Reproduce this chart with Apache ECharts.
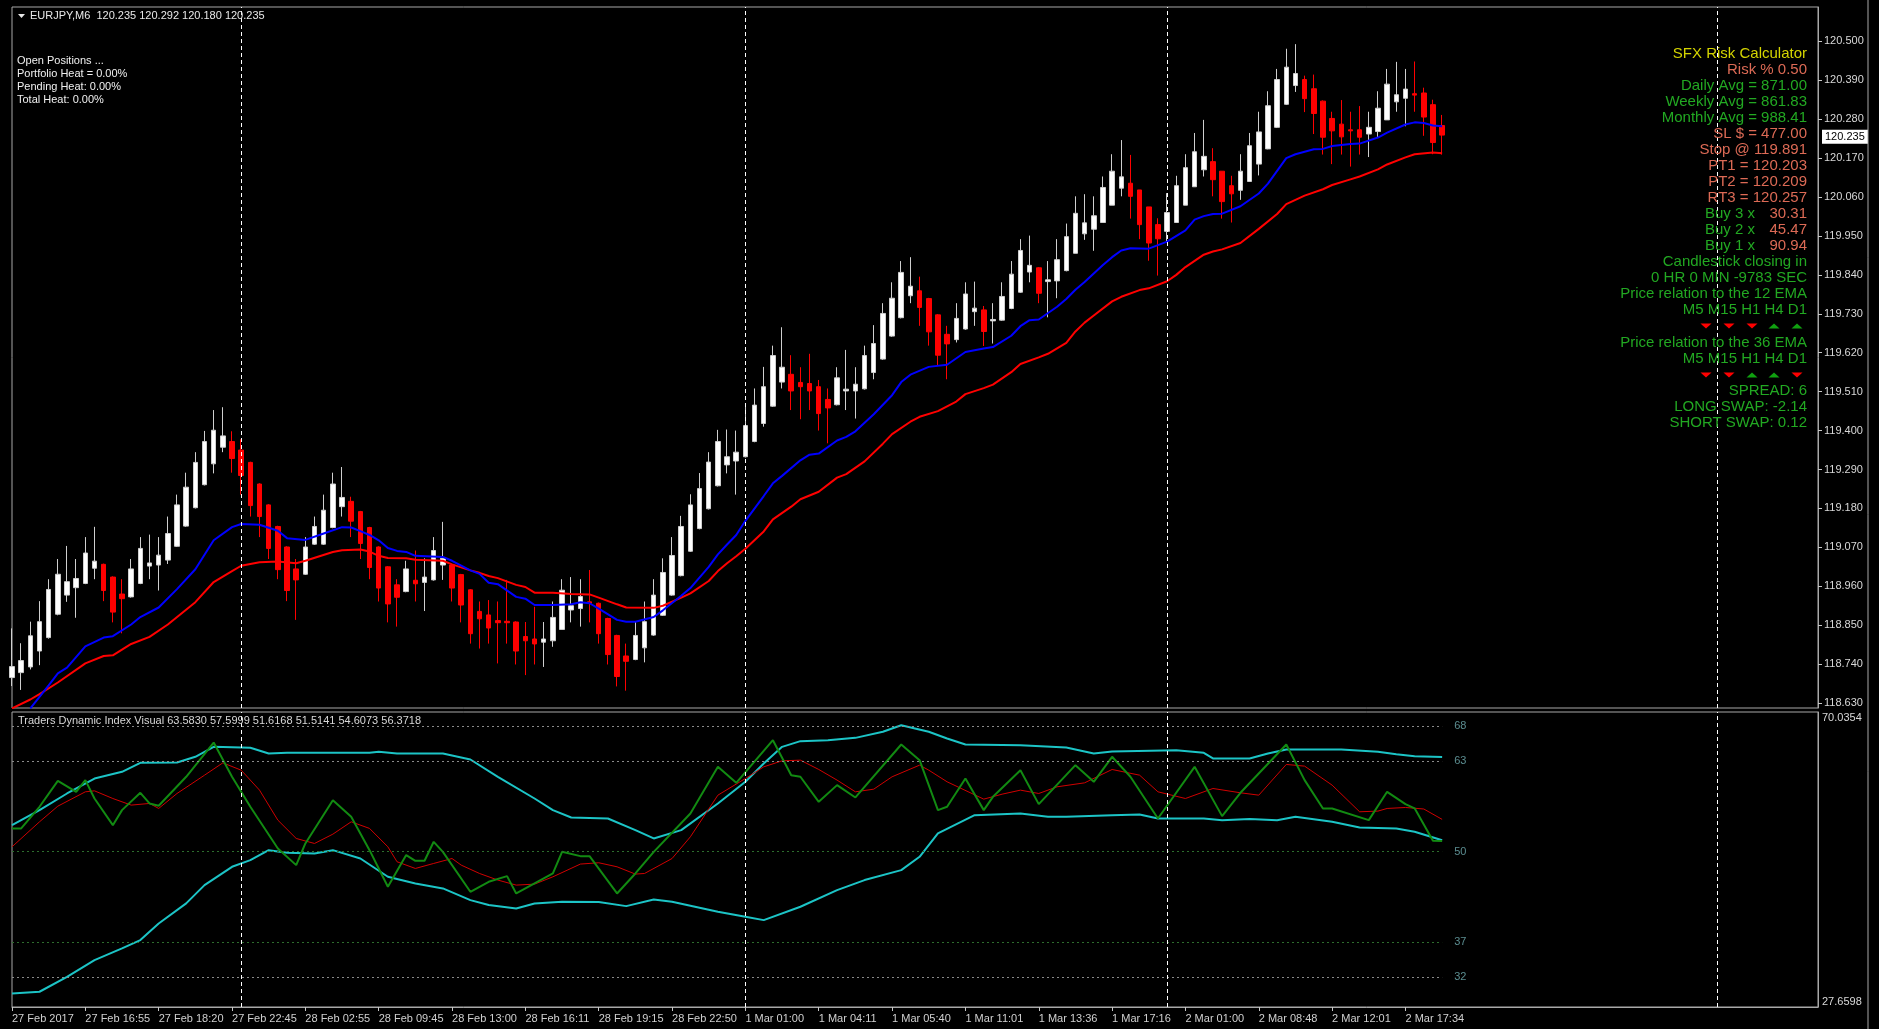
<!DOCTYPE html>
<html>
<head>
<meta charset="utf-8">
<title>EURJPY,M6</title>
<script src="https://cdn.jsdelivr.net/npm/echarts@6.0.0/dist/echarts.min.js"></script>
<style>
  html, body { margin: 0; padding: 0; background: #000; }
  #chart { width: 1879px; height: 1029px; }
</style>
</head>
<body>
<div id="chart"></div>
<script>
// ---- price data (EURJPY M6) ----
const opens = [
  118.702, 118.716, 118.732, 118.777, 118.815, 118.881, 118.935, 118.956, 118.968, 119.011,
  119.022, 118.986, 118.938, 118.930, 118.968, 119.017, 119.020, 119.034, 119.073, 119.130,
  119.182, 119.247, 119.306, 119.353, 119.369, 119.345, 119.310, 119.249, 119.190, 119.129,
  119.071, 119.009, 118.994, 119.079, 119.079, 119.126, 119.185, 119.200, 119.171, 119.126,
  119.071, 119.015, 118.964, 118.945, 118.977, 118.971, 118.978, 119.020, 119.020, 118.993,
  118.950, 118.889, 118.879, 118.863, 118.861, 118.859, 118.818, 118.811, 118.802, 118.806,
  118.838, 118.893, 118.897, 118.916, 118.912, 118.869, 118.821, 118.763, 118.753, 118.786,
  118.822, 118.878, 118.935, 118.990, 119.059, 119.123, 119.179, 119.244, 119.303, 119.314,
  119.326, 119.369, 119.420, 119.469, 119.537, 119.559, 119.536, 119.533, 119.524, 119.488,
  119.473, 119.512, 119.512, 119.518, 119.564, 119.602, 119.667, 119.719, 119.781, 119.795,
  119.773, 119.727, 119.672, 119.657, 119.687, 119.736, 119.741, 119.710, 119.712, 119.745,
  119.791, 119.848, 119.860, 119.821, 119.823, 119.852, 119.901, 119.956, 119.969, 119.988,
  120.037, 120.085, 120.099, 120.080, 120.032, 119.982, 119.963, 119.988, 120.037, 120.089,
  120.137, 120.160, 120.133, 120.092, 120.079, 120.104, 120.153, 120.196, 120.257, 120.322,
  120.375, 120.392, 120.366, 120.331, 120.282, 120.266, 120.250, 120.250, 120.238, 120.245,
  120.278, 120.329, 120.339, 120.352, 120.354, 120.321, 120.262
];
const highs = [
  118.841, 118.799, 118.860, 118.918, 118.980, 119.037, 119.074, 119.037, 119.099, 119.128,
  119.024, 118.988, 118.980, 119.037, 119.099, 119.106, 119.099, 119.157, 119.219, 119.281,
  119.339, 119.399, 119.458, 119.466, 119.398, 119.375, 119.312, 119.251, 119.192, 119.131,
  119.073, 119.037, 119.099, 119.157, 119.219, 119.281, 119.297, 119.213, 119.173, 119.128,
  119.073, 119.017, 118.980, 119.032, 119.061, 119.039, 119.099, 119.142, 119.022, 118.995,
  118.952, 118.917, 118.921, 118.917, 118.978, 118.861, 118.859, 118.902, 118.859, 118.917,
  118.980, 118.986, 118.980, 119.006, 118.914, 118.871, 118.823, 118.798, 118.859, 118.917,
  118.980, 119.039, 119.099, 119.159, 119.220, 119.280, 119.339, 119.402, 119.403, 119.400,
  119.467, 119.519, 119.580, 119.640, 119.692, 119.613, 119.579, 119.617, 119.543, 119.519,
  119.579, 119.628, 119.579, 119.640, 119.698, 119.760, 119.819, 119.879, 119.890, 119.835,
  119.775, 119.729, 119.696, 119.760, 119.819, 119.821, 119.752, 119.760, 119.819, 119.879,
  119.941, 119.951, 119.862, 119.879, 119.941, 119.985, 120.062, 120.068, 120.062, 120.118,
  120.181, 120.221, 120.179, 120.080, 120.032, 120.000, 120.071, 120.120, 120.181, 120.241,
  120.278, 120.198, 120.133, 120.120, 120.181, 120.241, 120.301, 120.359, 120.422, 120.479,
  120.492, 120.403, 120.406, 120.333, 120.301, 120.334, 120.301, 120.317, 120.301, 120.359,
  120.422, 120.442, 120.422, 120.443, 120.369, 120.335, 120.292
];
const lows = [
  118.678, 118.667, 118.725, 118.737, 118.812, 118.878, 118.916, 118.871, 118.966, 118.980,
  118.918, 118.858, 118.827, 118.928, 118.966, 118.980, 118.948, 119.023, 119.071, 119.128,
  119.180, 119.245, 119.279, 119.339, 119.281, 119.219, 119.157, 119.099, 119.037, 118.980,
  118.918, 118.865, 118.992, 119.077, 119.077, 119.124, 119.157, 119.099, 119.037, 118.980,
  118.917, 118.858, 118.846, 118.943, 118.917, 118.890, 118.976, 118.978, 118.917, 118.858,
  118.798, 118.784, 118.798, 118.742, 118.798, 118.739, 118.709, 118.739, 118.732, 118.789,
  118.838, 118.858, 118.846, 118.858, 118.798, 118.739, 118.677, 118.665, 118.751, 118.745,
  118.820, 118.876, 118.933, 118.988, 119.057, 119.121, 119.177, 119.242, 119.279, 119.219,
  119.324, 119.367, 119.411, 119.467, 119.519, 119.458, 119.432, 119.458, 119.400, 119.364,
  119.471, 119.458, 119.434, 119.516, 119.545, 119.600, 119.665, 119.717, 119.760, 119.696,
  119.640, 119.582, 119.545, 119.649, 119.685, 119.696, 119.639, 119.646, 119.710, 119.743,
  119.789, 119.819, 119.760, 119.720, 119.774, 119.850, 119.901, 119.939, 119.908, 119.988,
  120.037, 120.062, 119.999, 119.941, 119.880, 119.838, 119.935, 119.988, 120.037, 120.089,
  120.118, 120.062, 119.999, 119.988, 120.052, 120.104, 120.121, 120.195, 120.255, 120.320,
  120.357, 120.300, 120.238, 120.180, 120.153, 120.180, 120.146, 120.180, 120.173, 120.227,
  120.278, 120.301, 120.260, 120.301, 120.233, 120.181, 120.180
];
const closes = [
  118.733, 118.750, 118.820, 118.860, 118.951, 118.994, 118.973, 118.982, 119.054, 119.031,
  118.948, 118.887, 118.925, 119.009, 119.067, 119.026, 119.048, 119.109, 119.190, 119.240,
  119.310, 119.369, 119.401, 119.385, 119.321, 119.273, 119.188, 119.157, 119.067, 119.007,
  118.948, 118.978, 119.071, 119.129, 119.175, 119.249, 119.211, 119.144, 119.081, 119.013,
  118.955, 118.910, 118.929, 119.009, 118.967, 118.986, 119.061, 119.039, 118.955, 118.907,
  118.826, 118.868, 118.842, 118.857, 118.857, 118.777, 118.806, 118.797, 118.811, 118.872,
  118.949, 118.905, 118.931, 118.912, 118.826, 118.767, 118.705, 118.748, 118.821, 118.860,
  118.935, 118.999, 119.047, 119.129, 119.190, 119.236, 119.311, 119.369, 119.326, 119.339,
  119.414, 119.472, 119.524, 119.612, 119.579, 119.512, 119.524, 119.512, 119.448, 119.464,
  119.549, 119.517, 119.531, 119.612, 119.646, 119.731, 119.774, 119.847, 119.808, 119.748,
  119.679, 119.613, 119.645, 119.717, 119.786, 119.746, 119.680, 119.714, 119.779, 119.842,
  119.909, 119.867, 119.788, 119.826, 119.883, 119.948, 120.014, 119.987, 120.007, 120.087,
  120.133, 120.117, 120.062, 119.982, 119.930, 119.942, 120.016, 120.092, 120.143, 120.188,
  120.175, 120.109, 120.047, 120.069, 120.133, 120.205, 120.244, 120.318, 120.392, 120.427,
  120.409, 120.338, 120.296, 120.229, 120.247, 120.230, 120.247, 120.229, 120.257, 120.311,
  120.379, 120.349, 120.365, 120.348, 120.286, 120.214, 120.235
];

// moving averages, [bar index, value]
const ema12 = [
  [2,118.615],[4,118.680],[5,118.714],[6,118.730],[8,118.790],[10,118.815],[11,118.819],[13,118.852],
  [14,118.873],[16,118.900],[18,118.952],[20,119.008],[22,119.090],[24,119.127],[25,119.136],[27,119.134],
  [29,119.117],[30,119.096],[32,119.091],[34,119.109],[36,119.127],[37,119.126],[38,119.116],[39,119.105],
  [40,119.090],[41,119.068],[42,119.060],[43,119.057],[44,119.046],[47,119.043],[48,119.032],[50,119.005],
  [51,118.995],[52,118.970],[53,118.966],[55,118.930],[56,118.925],[57,118.907],[59,118.907],[61,118.909],
  [62,118.915],[63,118.912],[64,118.897],[66,118.865],[67,118.860],[68,118.860],[70,118.873],[71,118.892],
  [73,118.933],[74,118.955],[76,119.015],[77,119.050],[78,119.078],[79,119.105],[80,119.145],[82,119.215],
  [83,119.251],[84,119.272],[86,119.316],[87,119.332],[88,119.335],[90,119.372],[91,119.382],[92,119.398],
  [94,119.446],[96,119.500],[97,119.537],[98,119.558],[100,119.580],[102,119.586],[104,119.622],[106,119.632],
  [107,119.636],[109,119.668],[110,119.695],[111,119.712],[112,119.714],[114,119.750],[115,119.772],[116,119.798],
  [117,119.820],[119,119.868],[120,119.890],[121,119.909],[122,119.915],[124,119.914],[126,119.934],[128,119.966],
  [129,119.996],[130,120.006],[131,120.012],[132,120.013],[134,120.034],[136,120.070],[137,120.098],[139,120.170],
  [140,120.181],[142,120.195],[143,120.196],[144,120.204],[146,120.210],[147,120.211],[149,120.228],[150,120.242],
  [152,120.265],[153,120.271],[154,120.269],[155,120.262],[156,120.260]
];
const ema36 = [
  [0,118.615],[2,118.640],[3,118.655],[5,118.688],[8,118.742],[10,118.763],[11,118.765],[13,118.797],
  [15,118.817],[17,118.852],[20,118.915],[22,118.972],[24,119.003],[25,119.018],[27,119.028],[29,119.030],
  [31,119.025],[32,119.032],[35,119.057],[36,119.062],[38,119.064],[39,119.058],[40,119.046],[41,119.040],
  [43,119.039],[44,119.035],[47,119.032],[48,119.022],[50,119.005],[51,118.998],[52,118.989],[53,118.983],
  [55,118.964],[56,118.958],[57,118.942],[59,118.942],[61,118.938],[63,118.937],[64,118.928],[66,118.909],
  [67,118.900],[70,118.899],[71,118.905],[73,118.928],[74,118.940],[76,118.975],[77,119.003],[78,119.025],
  [79,119.045],[80,119.066],[82,119.115],[83,119.149],[85,119.185],[86,119.206],[88,119.227],[90,119.267],
  [91,119.277],[93,119.313],[95,119.363],[96,119.390],[98,119.425],[99,119.439],[101,119.455],[103,119.482],
  [104,119.503],[106,119.520],[107,119.530],[109,119.565],[110,119.588],[112,119.607],[113,119.617],[115,119.648],
  [116,119.680],[117,119.705],[118,119.725],[120,119.765],[121,119.778],[123,119.797],[124,119.802],[126,119.822],
  [127,119.840],[128,119.862],[130,119.897],[131,119.906],[132,119.912],[134,119.930],[136,119.970],[138,120.012],
  [139,120.040],[141,120.064],[143,120.082],[144,120.094],[146,120.110],[147,120.118],[149,120.138],[150,120.152],
  [152,120.172],[153,120.181],[155,120.186],[156,120.184]
];

// Traders Dynamic Index lines, [bar index, value]
const tdiUpper = [
  [0,53.78],[3,55.94],[6,58.33],[9,60.48],[12,61.44],[14,62.73],[18,62.78],[20,63.60],[22,65.03],[26,64.89],
  [28,64.07],[30,64.17],[39,64.17],[40,64.31],[42,64.08],[47,64.08],[50,63.21],[53,60.73],[57,57.61],[59,55.94],
  [61,54.88],[65,54.74],[68,53.07],[70,51.87],[73,53.07],[77,56.89],[80,60.01],[82,62.64],[84,65.03],[86,65.85],
  [89,65.99],[92,66.32],[95,67.19],[97,68.14],[100,67.19],[102,66.23],[104,65.37],[110,65.27],[115,64.94],[118,64.07],
  [120,64.36],[127,64.55],[130,64.17],[131,63.36],[135,63.36],[137,64.07],[139,64.65],[145,64.65],[149,64.31],[151,63.98],
  [153,63.69],[156,63.58]
];
const tdiLower = [
  [0,29.61],[3,29.85],[6,31.99],[9,34.40],[12,36.07],[14,37.27],[16,39.66],[19,42.54],[21,45.17],[24,47.80],
  [26,48.76],[28,50.19],[30,49.81],[33,49.72],[35,50.19],[38,48.99],[41,46.37],[44,45.41],[47,44.69],[50,43.01],
  [52,42.30],[55,41.82],[57,42.54],[60,42.78],[64,42.73],[67,42.15],[70,43.11],[72,42.78],[77,41.34],[80,40.62],
  [82,40.14],[86,42.06],[90,44.45],[93,45.89],[97,47.32],[99,49.24],[101,52.59],[105,55.22],[110,55.46],[113,54.98],
  [115,54.98],[120,55.22],[123,55.32],[125,54.74],[130,54.74],[132,54.50],[135,54.65],[138,54.50],[140,54.98],[144,54.26],
  [147,53.45],[151,53.31],[153,52.83],[156,51.62]
];
const tdiPrice = [
  [0,53.31],[1,53.31],[3,56.42],[5,60.15],[7,58.57],[8,60.25],[9,57.61],[11,53.78],[12,55.94],[14,58.43],
  [15,56.90],[16,56.56],[19,60.73],[22,65.65],[24,60.73],[26,56.42],[29,50.43],[31,48.04],[32,51.15],[35,57.37],
  [37,54.98],[39,50.19],[41,44.93],[43,49.48],[44,48.66],[45,48.66],[46,51.39],[47,49.95],[50,44.21],[52,45.65],
  [54,46.46],[55,43.97],[57,45.41],[59,46.84],[60,49.95],[62,49.33],[63,49.33],[66,43.97],[68,46.84],[70,49.95],
  [74,55.46],[77,62.16],[79,59.86],[83,65.99],[85,60.96],[86,60.73],[88,57.13],[90,59.53],[92,57.76],[97,65.37],
  [99,63.12],[101,55.94],[102,56.42],[104,60.49],[106,55.94],[107,57.85],[110,61.68],[112,56.80],[116,62.40],[118,60.01],
  [120,63.60],[122,60.73],[125,54.74],[129,62.16],[132,55.08],[134,58.43],[139,65.37],[141,60.25],[143,56.18],[144,56.18],
  [148,54.50],[150,58.57],[152,56.80],[153,56.20],[155,51.55],[156,51.51]
];
const tdiSignal = [
  [0,50.67],[3,54.26],[5,56.51],[8,58.57],[9,58.71],[11,57.61],[13,56.66],[15,56.90],[16,56.18],[18,58.33],
  [21,60.96],[23,62.73],[25,61.68],[27,58.81],[29,54.50],[31,51.87],[33,51.15],[35,52.49],[37,54.26],[39,53.31],
  [41,50.67],[42,48.52],[44,47.56],[46,48.28],[48,48.99],[49,48.04],[51,46.84],[53,45.89],[55,45.17],[57,45.31],
  [59,46.36],[62,48.19],[64,48.38],[66,47.80],[68,46.75],[69,46.84],[72,48.99],[74,52.11],[77,58.09],[80,60.48],
  [82,62.16],[84,63.02],[86,63.12],[88,61.78],[90,60.25],[92,58.57],[94,58.95],[96,60.73],[99,62.40],[100,61.68],
  [102,60.01],[106,57.52],[108,58.23],[110,58.81],[112,58.33],[114,59.29],[117,59.86],[120,61.78],[123,60.96],[125,58.57],
  [128,57.61],[131,59.05],[134,58.43],[136,58.09],[139,62.50],[141,62.26],[144,59.53],[147,55.70],[149,55.80],[150,56.18],
  [152,56.32],[154,56.10],[156,54.61]
];

// axis labels
const timeLabels = [
  '27 Feb 2017', '27 Feb 16:55', '27 Feb 18:20', '27 Feb 22:45', '28 Feb 02:55', '28 Feb 09:45',
  '28 Feb 13:00', '28 Feb 16:11', '28 Feb 19:15', '28 Feb 22:50', '1 Mar 01:00', '1 Mar 04:11',
  '1 Mar 05:40', '1 Mar 11:01', '1 Mar 13:36', '1 Mar 17:16', '2 Mar 01:00', '2 Mar 08:48',
  '2 Mar 12:01', '2 Mar 17:34'
];
const priceTicks = [
  118.630, 118.740, 118.850, 118.960, 119.070, 119.180, 119.290, 119.400, 119.510,
  119.620, 119.730, 119.840, 119.950, 120.060, 120.170, 120.280, 120.390, 120.500
];
const daySeparators = [25, 80, 126, 186];
const tdiLevels = [68, 63, 50, 37, 32];
const lastPrice = 120.235;

const TOTAL_SLOTS = 198; // chart continues to the right of the last bar
const LABEL_STEP = 8;

const FONT = '"Liberation Sans", Arial, sans-serif';
const GREEN = '#22a822';
const SALMON = '#dc6a55';

// category names: a time label every 8 bars
const cats = [];
for (let i = 0; i < TOTAL_SLOTS; i++) {
  const k = i / LABEL_STEP;
  cats.push(i % LABEL_STEP === 0 && k < timeLabels.length ? timeLabels[k] : '');
}
const candles = opens.map((o, i) => [o, closes[i], lows[i], highs[i]]);

const chart = echarts.init(document.getElementById('chart'));

// ---- text overlays ----
function txt(text, x, y, color, size, align) {
  return {
    type: 'text', x: x, y: y, silent: true, z: 100,
    style: {
      text: text, fill: color, font: size + 'px ' + FONT,
      align: align || 'left', verticalAlign: 'middle',
      textAlign: align || 'left', textVerticalAlign: 'middle'
    }
  };
}
function tri(x, y, up, color) {
  const pts = up
    ? [[x - 5.5, y + 2.5], [x + 5.5, y + 2.5], [x, y - 2.5]]
    : [[x - 5.5, y - 2.5], [x + 5.5, y - 2.5], [x, y + 2.5]];
  return { type: 'polygon', silent: true, z: 100, shape: { points: pts }, style: { fill: color } };
}

const RX = 1807;
const rightPanel = [
  ['SFX Risk Calculator', '#d4d400', 54],
  ['Risk % 0.50', SALMON, 70],
  ['Daily Avg = 871.00', GREEN, 86],
  ['Weekly Avg = 861.83', GREEN, 102],
  ['Monthly Avg = 988.41', GREEN, 118],
  ['SL $ = 477.00', SALMON, 134],
  ['Stop @ 119.891', SALMON, 150],
  ['PT1 = 120.203', SALMON, 166],
  ['PT2 = 120.209', SALMON, 182],
  ['RT3 = 120.257', SALMON, 198],
  ['Candlestick closing in', GREEN, 262],
  ['0 HR 0 MIN -9783 SEC', GREEN, 278],
  ['Price relation to the 12 EMA', GREEN, 294],
  ['M5 M15 H1 H4 D1', GREEN, 310],
  ['Price relation to the 36 EMA', GREEN, 343],
  ['M5 M15 H1 H4 D1', GREEN, 359],
  ['SPREAD: 6', GREEN, 391],
  ['LONG SWAP: -2.14', GREEN, 407],
  ['SHORT SWAP: 0.12', GREEN, 423]
];
const buyRows = [['Buy 3 x', '30.31', 214], ['Buy 2 x', '45.47', 230], ['Buy 1 x', '90.94', 246]];
const arrowCols = [1706, 1729, 1752, 1774, 1797];
const arrows12 = [false, false, false, true, true];
const arrows36 = [false, false, true, true, false];

const graphics = [];
rightPanel.forEach(r => graphics.push(txt(r[0], RX, r[2], r[1], 15, 'right')));
buyRows.forEach(r => {
  graphics.push(txt(r[0], 1755, r[2], GREEN, 15, 'right'));
  graphics.push(txt(r[1], RX, r[2], SALMON, 15, 'right'));
});
arrowCols.forEach((x, k) => {
  graphics.push(tri(x, 326, arrows12[k], arrows12[k] ? '#10a010' : '#ff0000'));
  graphics.push(tri(x, 375, arrows36[k], arrows36[k] ? '#10a010' : '#ff0000'));
});
graphics.push({ type: 'polygon', silent: true, z: 100, shape: { points: [[18, 14], [25, 14], [21.5, 18]] }, style: { fill: '#e8e8e8' } });
graphics.push(txt('EURJPY,M6  120.235 120.292 120.180 120.235', 30, 16, '#e8e8e8', 11));
['Open Positions ...', 'Portfolio Heat = 0.00%', 'Pending Heat: 0.00%', 'Total Heat: 0.00%']
  .forEach((s, k) => graphics.push(txt(s, 17, 61 + k * 13, '#f0f0f0', 11)));
graphics.push(txt('Traders Dynamic Index Visual 63.5830 57.5999 51.6168 51.5141 54.6073 56.3718', 18, 721, '#d8d8d8', 11));
graphics.push({ type: 'line', silent: true, shape: { x1: 1868, y1: 0, x2: 1868, y2: 1029 }, style: { stroke: '#a8a8a8', lineWidth: 1 } });

const sepLine = {
  silent: true, symbol: ['none', 'none'], animation: false,
  label: { show: false },
  lineStyle: { color: '#ffffff', type: [4, 3], width: 1 },
  data: daySeparators.map(x => ({ xAxis: x }))
};

const levelColors = { 68: '#8a8a8a', 63: '#8a8a8a', 50: '#2d6e2d', 37: '#2d6e2d', 32: '#8a8a8a' };
const levelLines = {
  silent: true, symbol: ['none', 'none'], animation: false,
  data: tdiLevels.map(v => [
    {
      coord: [0, v],
      lineStyle: { color: levelColors[v], type: [2, 3], width: 1 },
      label: {
        show: true, position: 'end', formatter: String(v), distance: 12,
        color: '#5b8d90', fontSize: 11, fontFamily: FONT, padding: [0, 0, 16, 0]
      }
    },
    { coord: [opens.length - 1, v] }
  ])
};

const option = {
  backgroundColor: '#000',
  animation: false,
  textStyle: { fontFamily: FONT },
  grid: [
    { left: 12, right: 61, top: 7, height: 701, show: true, borderColor: '#a8a8a8', borderWidth: 1, backgroundColor: '#000' },
    { left: 12, right: 61, top: 712, height: 295, show: true, borderColor: '#a8a8a8', borderWidth: 1, backgroundColor: '#000' }
  ],
  xAxis: [
    { gridIndex: 0, type: 'category', data: cats, boundaryGap: false, show: false },
    {
      gridIndex: 1, type: 'category', data: cats, boundaryGap: false,
      axisLine: { lineStyle: { color: '#a8a8a8' } },
      axisTick: { interval: (i) => i % LABEL_STEP === 0 && i / LABEL_STEP < timeLabels.length, length: 4, lineStyle: { color: '#c8c8c8' } },
      axisLabel: { interval: 0, color: '#d0d0d0', fontSize: 11, align: 'left', margin: 6 },
      splitLine: { show: false }
    }
  ],
  yAxis: [
    {
      gridIndex: 0, type: 'value', position: 'right', min: 118.616, max: 120.597, scale: true,
      splitLine: { show: false },
      axisLine: { show: true, lineStyle: { color: '#a8a8a8' } },
      axisTick: { show: true, length: 4, customValues: priceTicks, lineStyle: { color: '#c8c8c8' } },
      axisLabel: { customValues: priceTicks, formatter: v => v.toFixed(3), color: '#d8d8d8', fontSize: 11, margin: 6 }
    },
    {
      gridIndex: 1, type: 'value', position: 'right', min: 27.6598, max: 70.0354,
      splitLine: { show: false },
      axisLine: { show: true, lineStyle: { color: '#a8a8a8' } },
      axisTick: { show: false },
      axisLabel: {
        customValues: [27.6598, 70.0354], formatter: v => v.toFixed(4), color: '#d8d8d8', fontSize: 11, margin: 4,
        verticalAlignMinLabel: 'bottom', verticalAlignMaxLabel: 'top'
      }
    }
  ],
  series: [
    {
      name: 'EURJPY', type: 'candlestick', xAxisIndex: 0, yAxisIndex: 0,
      data: candles, barWidth: 5,
      itemStyle: { color: '#ffffff', color0: '#ff0000', borderColor: '#cfcfcf', borderColor0: '#ff0000', borderWidth: 1 },
      markLine: {
        silent: true, symbol: ['none', 'none'], animation: false,
        lineStyle: { color: 'rgba(0,0,0,0)', width: 1, type: 'solid' },
        label: {
          show: true, position: 'end', distance: 4, formatter: lastPrice.toFixed(3),
          color: '#000', backgroundColor: '#ffffff', padding: [2, 3, 1, 3], fontSize: 11, fontFamily: FONT
        },
        data: [{ yAxis: lastPrice }]
      }
    },
    {
      name: 'EMA 36', type: 'line', xAxisIndex: 0, yAxisIndex: 0, data: ema36,
      showSymbol: false, lineStyle: { color: '#ff0000', width: 2 }, z: 3,
      markLine: sepLine
    },
    {
      name: 'EMA 12', type: 'line', xAxisIndex: 0, yAxisIndex: 0, data: ema12,
      showSymbol: false, lineStyle: { color: '#0000ff', width: 2 }, z: 4
    },
    {
      name: 'Upper band', type: 'line', xAxisIndex: 1, yAxisIndex: 1, data: tdiUpper,
      showSymbol: false, lineStyle: { color: '#1cc4c6', width: 2 }, markLine: levelLines
    },
    {
      name: 'Lower band', type: 'line', xAxisIndex: 1, yAxisIndex: 1, data: tdiLower,
      showSymbol: false, lineStyle: { color: '#1cc4c6', width: 2 }, markLine: sepLine
    },
    {
      name: 'Signal', type: 'line', xAxisIndex: 1, yAxisIndex: 1, data: tdiSignal,
      showSymbol: false, lineStyle: { color: '#d00000', width: 1 }
    },
    {
      name: 'RSI price', type: 'line', xAxisIndex: 1, yAxisIndex: 1, data: tdiPrice,
      showSymbol: false, lineStyle: { color: '#128a12', width: 2 }
    }
  ],
  graphic: graphics
};

chart.setOption(option);
window.addEventListener('resize', () => chart.resize());
</script>
</body>
</html>
